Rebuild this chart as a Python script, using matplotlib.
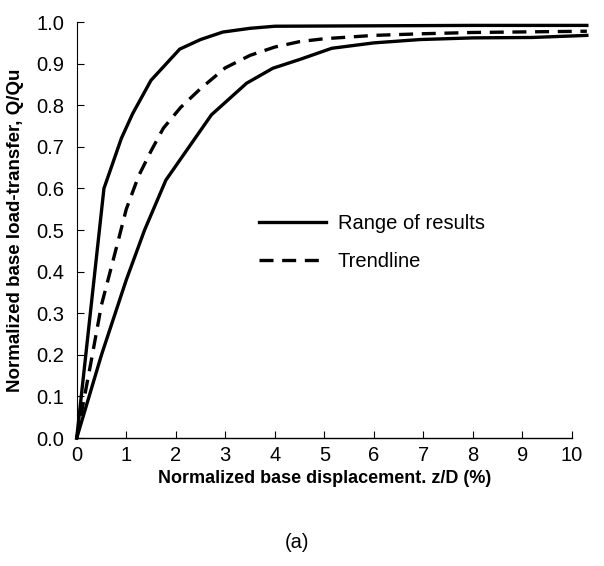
import numpy as np
import matplotlib
matplotlib.use("Agg")
import matplotlib.pyplot as plt

# values
upper_x = [0, 0.55, 0.9, 1.13, 1.5, 2.08, 2.5, 2.95, 3.5, 4.0, 6.0, 8.0, 10.3]
upper_y = [0, 0.60, 0.72, 0.78, 0.86, 0.935, 0.958, 0.976, 0.985, 0.99, 0.991, 0.992, 0.992]

lower_x = [0, 0.5, 1.0, 1.37, 1.8, 2.72, 3.43, 3.96, 4.5, 5.15, 6.0, 6.93, 8.0, 9.2, 10.3]
lower_y = [0, 0.2, 0.38, 0.5, 0.62, 0.777, 0.853, 0.889, 0.91, 0.937, 0.95, 0.958, 0.962, 0.963, 0.968]

trend_x = [0, 0.3, 0.5, 0.85, 1.0, 1.25, 1.5, 1.75, 2.1, 2.5, 3.0, 3.5, 4.0, 4.5, 5.0, 6.0, 7.0, 8.0, 10.3]
trend_y = [0, 0.19, 0.32, 0.48, 0.55, 0.63, 0.69, 0.745, 0.795, 0.84, 0.89, 0.92, 0.94, 0.953, 0.96, 0.968, 0.972, 0.975, 0.978]

x_ticks = list(range(0, 11))
y_ticks = [round(0.1 * i, 1) for i in range(11)]

narrow = ["Liberation Sans Narrow", "Liberation Sans", "DejaVu Sans"]

fig = plt.figure(figsize=(6.04, 5.66), dpi=100)
ax = fig.add_axes([0.127, 0.226, 0.82, 0.735])

ax.plot(upper_x, upper_y, color="black", lw=2.4, clip_on=False, label="Range of results")
ax.plot(lower_x, lower_y, color="black", lw=2.4, clip_on=False)
ax.plot(trend_x, trend_y, color="black", lw=2.4, ls=(0, (4.2, 2.6)), clip_on=False, label="Trendline")

ax.set_xlim(0, 10)
ax.set_ylim(0, 1.0)
ax.set_xticks(x_ticks)
ax.set_yticks(y_ticks)
ax.set_yticklabels([f"{v:.1f}" for v in y_ticks])

for side in ["top", "right"]:
    ax.spines[side].set_visible(False)
ax.spines["left"].set_linewidth(0.8)
ax.spines["bottom"].set_linewidth(1.0)
ax.tick_params(direction="in", length=5, width=0.8, pad=9, labelsize=14.5)
ax.tick_params(axis="x", pad=6)
for lab in ax.get_xticklabels() + ax.get_yticklabels():
    lab.set_family(narrow)

ax.set_xlabel("Normalized base displacement. z/D (%)", family=narrow,
              fontsize=13, fontweight="bold", labelpad=3)
ax.set_ylabel("Normalized base load-transfer, Q/Qu", family=["Liberation Sans", "DejaVu Sans"],
              fontsize=13.5, fontweight="bold", labelpad=9)

leg = ax.legend(loc="center left", bbox_to_anchor=(0.348, 0.471), frameon=False,
                borderpad=0, handlelength=3.3, handletextpad=0.6, labelspacing=0.95,
                prop={"family": narrow, "size": 14.5})

fig.text(0.492, 0.042, "(a)", ha="center", va="center", fontsize=14.5, family=narrow)

fig.savefig("out.png", dpi=100)
